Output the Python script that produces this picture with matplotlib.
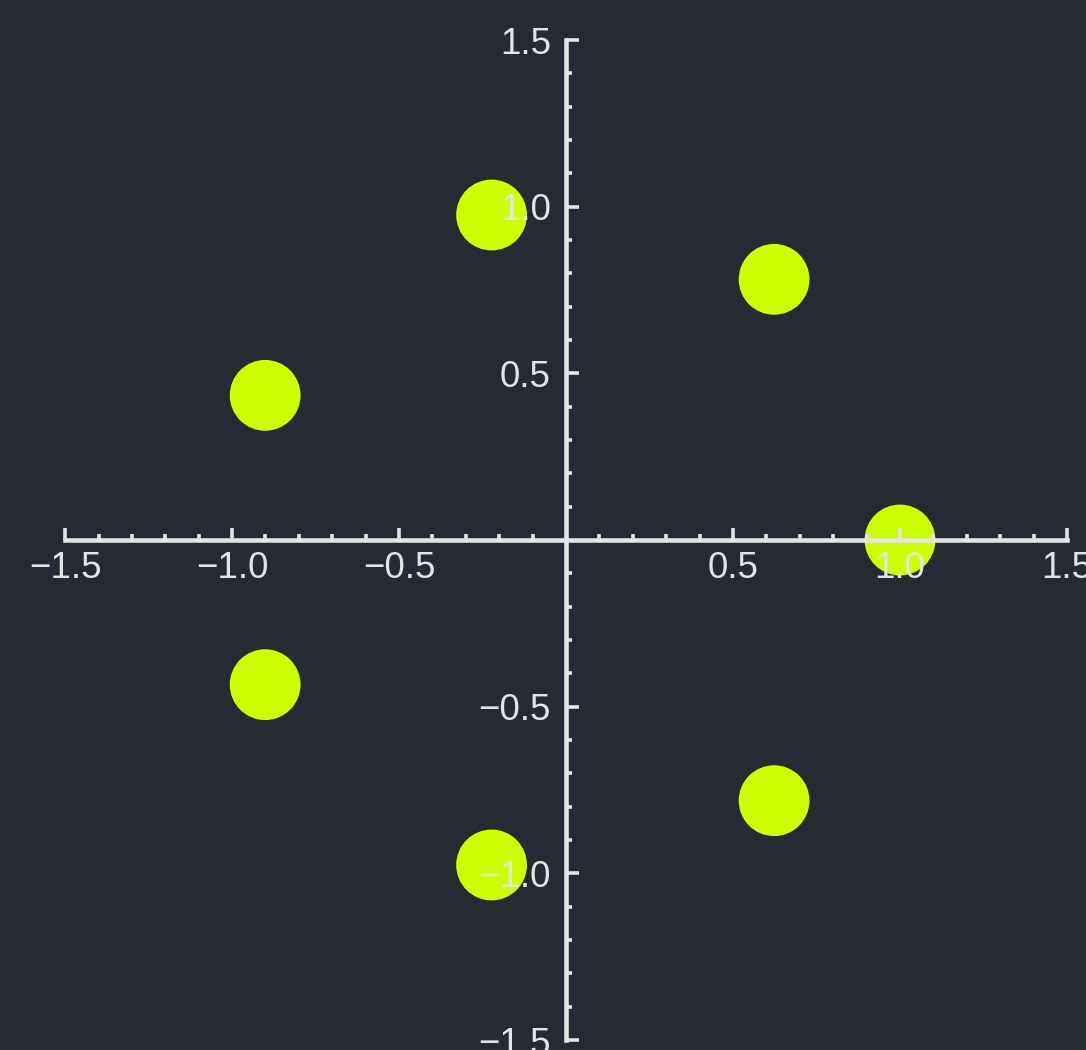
import matplotlib
matplotlib.use("Agg")
import matplotlib.pyplot as plt
from matplotlib.ticker import FixedLocator

# Seventh roots of unity in the complex plane
re_parts = [1.0, 0.623, -0.223, -0.901, -0.901, -0.223, 0.623]
im_parts = [0.0, 0.782, 0.975, 0.434, -0.434, -0.975, -0.782]

major_ticks = [-1.5, -1.0, -0.5, 0.5, 1.0, 1.5]
tick_labels = ["\u22121.5", "\u22121.0", "\u22120.5", "0.5", "1.0", "1.5"]
minor_ticks = [k / 10 for k in range(-14, 15) if k % 5 != 0]

bg = "#252a33"
fg = "#e4e4e4"
dot = "#ccff00"

plt.rcParams["font.family"] = ["Liberation Sans", "DejaVu Sans"]

fig = plt.figure(figsize=(10.86, 10.5), dpi=100, facecolor=bg)
ax = fig.add_axes([0, 0, 1, 1], facecolor=bg)

ax.scatter(re_parts, im_parts, s=2600, color=dot, edgecolors="none", zorder=1)

ax.set_xlim(-1.695, 1.557)
ax.set_ylim(-1.53, 1.62)

for side in ("top", "right"):
    ax.spines[side].set_visible(False)
for side in ("bottom", "left"):
    sp = ax.spines[side]
    sp.set_position(("data", 0))
    sp.set_bounds(-1.5, 1.5)
    sp.set_color(fg)
    sp.set_linewidth(3.3)
    sp.set_zorder(3)

for axis in (ax.xaxis, ax.yaxis):
    axis.set_major_locator(FixedLocator(major_ticks))
    axis.set_minor_locator(FixedLocator(minor_ticks))

ax.set_xticklabels(tick_labels)
ax.set_yticklabels(tick_labels)

ax.tick_params(which="major", direction="in", length=9, width=2.6, color=fg,
               labelcolor=fg, labelsize=26.5)
ax.tick_params(axis="x", which="major", pad=8)
ax.tick_params(axis="y", which="major", pad=11)
ax.tick_params(which="minor", direction="in", length=4.5, width=2.6, color=fg)

for lbl in ax.get_xticklabels() + ax.get_yticklabels():
    lbl.set_zorder(4)

fig.savefig("out.png", dpi=100, facecolor=bg)
